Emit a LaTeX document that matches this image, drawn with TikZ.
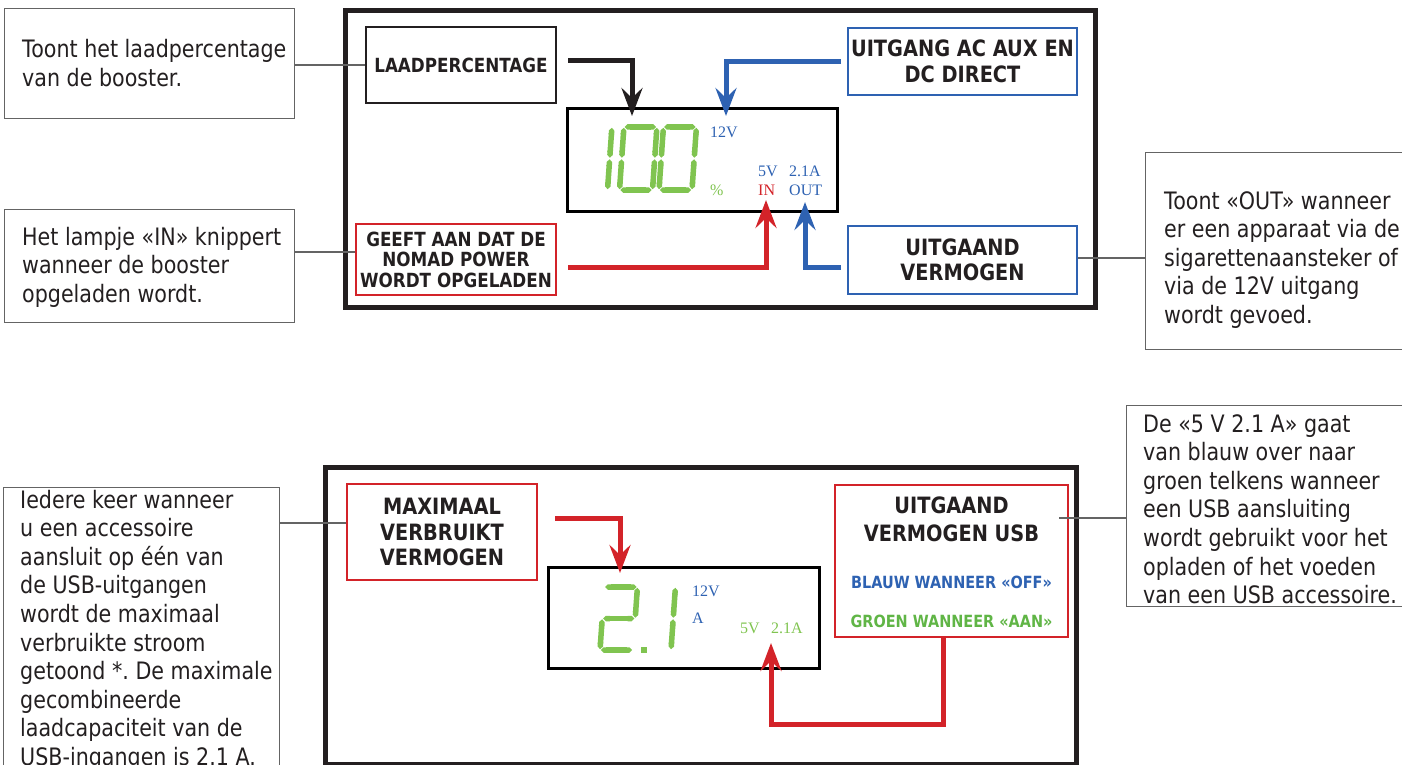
\documentclass[tikz,border=0pt]{standalone}
\usepackage{fontspec}
\setmainfont{DejaVu Sans}[FakeStretch=0.86]
\newfontfamily\lcdfont{Liberation Serif}
\usetikzlibrary{arrows.meta, positioning, calc}
\frenchspacing

\definecolor{framegray}{RGB}{35,31,32}
\definecolor{linegray}{RGB}{100,100,100}
\definecolor{ink}{RGB}{35,31,32}
\definecolor{lcdblue}{RGB}{46,98,178}
\definecolor{lcdred}{RGB}{211,35,41}
\definecolor{lcdgreen}{RGB}{128,196,80}
\definecolor{textgreen}{RGB}{96,181,70}

% seven segment pieces, origin = bottom left of the digit
\tikzset{
    lcdseg/.style={draw=lcdgreen, line width=5.5pt, shorten <=0.8pt, shorten >=0.8pt,
        {Triangle Cap[]}-{Triangle Cap[]}, xslant=0.07},
    seg a/.pic={\draw[lcdseg] (0,-63) -- (33,-63);},
    seg b/.pic={\draw[lcdseg] (33,-63) -- (33,-31.5);},
    seg c/.pic={\draw[lcdseg] (33,-31.5) -- (33,0);},
    seg d/.pic={\draw[lcdseg] (0,0) -- (33,0);},
    seg e/.pic={\draw[lcdseg] (0,-31.5) -- (0,0);},
    seg f/.pic={\draw[lcdseg] (0,-63) -- (0,-31.5);},
    seg g/.pic={\draw[lcdseg] (0,-31.5) -- (33,-31.5);}
}
\newcommand{\lcddigit}[3]{\foreach \s in {#3}{\pic at (#1,#2) {seg \s};}}

\begin{document}
\begin{tikzpicture}[x=1pt, y=-1pt,
    panel/.style={draw=framegray, line width=5pt},
    notebox/.style={draw=linegray, line width=1.4pt, anchor=north west, inner sep=0pt},
    note/.style={anchor=base west, align=left, inner sep=0pt, text=ink,
        font=\fontsize{24}{28.6}\selectfont},
    tagbox/.style={line width=2pt, align=center, inner sep=0pt, text=ink,
        font=\bfseries\fontsize{22.5}{25.5}\selectfont},
    smalltag/.style={font=\bfseries\fontsize{19.5}{20.5}\selectfont},
    lcdbox/.style={draw=black, line width=3pt, inner sep=0pt},
    lcdtext/.style={anchor=base west, inner sep=0pt, font=\lcdfont\fontsize{16}{16}\selectfont},
    lead/.style={draw=linegray, line width=1.2pt},
    arrow/.style={line width=5pt, line join=miter, -{Stealth[length=28pt, width=21pt, inset=10pt]}}
]
\useasboundingbox (0,0) rectangle (1402,765);
\clip (0,0) rectangle (1402,765);

% ---------- top panel ----------
\draw[panel] (345.5,10.5) rectangle (1095,307.5);

% display
\node[lcdbox, minimum width=270, minimum height=102] (disp1) at (702,160) {};
\lcddigit{607.5}{190}{e,f}
\lcddigit{619.5}{190}{a,b,c,d,e,f}
\lcddigit{659}{190}{a,b,c,d,e,f}
\node[lcdtext, text=lcdblue] (v12a) at (710,137) {12V};
\node[lcdtext, text=lcdgreen] (pct) at (710,195) {\%};
\node[lcdtext, text=lcdblue] (v5a) at (758,176) {5V};
\node[lcdtext, text=lcdblue] (amp1) at (789,176) {2.1A};
\node[lcdtext, text=lcdred] (inlbl) at (758,195) {IN};
\node[lcdtext, text=lcdblue] (outlbl) at (789,195) {OUT};

% boxes
\node[tagbox, smalltag, draw=ink, minimum width=190, minimum height=76] (laad) at (461,65) {LAADPERCENTAGE};
\node[tagbox, smalltag, draw=lcdred, minimum width=200, minimum height=71] (geeft) at (456,259.5) {GEEFT AAN DAT DE\\NOMAD POWER\\WORDT OPGELADEN};
\node[tagbox, draw=lcdblue, minimum width=229, minimum height=67] (aux) at (962.5,61.5) {UITGANG AC AUX EN\\DC DIRECT};
\node[tagbox, draw=lcdblue, minimum width=229, minimum height=68] (uitg) at (962.5,260) {UITGAAND\\VERMOGEN};

% callouts (text placed by the baseline of its last line)
\node[notebox, minimum width=290, minimum height=110] (tip1) at (4,8) {};
\node[note] (tip1txt) at (22,86.6) {Toont het laadpercentage\\van de booster.};
\node[notebox, minimum width=290, minimum height=113] (tip2) at (4,209) {};
\node[note] (tip2txt) at (22,302.2) {Het lampje «IN» knippert\\wanneer de booster\\opgeladen wordt.};
\node[notebox, minimum width=300, minimum height=197] (tip3) at (1145,152) {};
\node[note] (tip3txt) at (1164,323.4) {Toont «OUT» wanneer\\er een apparaat via de\\sigarettenaansteker of\\via de 12V uitgang\\wordt gevoed.};

\draw[lead] (laad.west) -- (laad.west -| tip1.east);
\draw[lead] ([yshift=7.5pt]geeft.west) -- ([yshift=7.5pt]geeft.west -| tip2.east);
\draw[lead] ([yshift=2pt]uitg.east) -- ([yshift=2pt]uitg.east -| tip3.west);

% arrows
\coordinate (in100) at (632,116);
\coordinate (in12) at (726,116);
\coordinate (inIN) at (766,200);
\coordinate (inOUT) at (805,202);
\draw[arrow, draw=framegray] ([shift={(11,-4)}]laad.east) -| (in100);
\draw[arrow, draw=lcdblue] ([xshift=-6pt]aux.west) -| (in12);
\draw[arrow, draw=lcdred] ([shift={(11,7.5)}]geeft.east) -| (inIN);
\draw[arrow, draw=lcdblue] ([shift={(-6,7)}]uitg.west) -| (inOUT);

% ---------- bottom panel ----------
\draw[panel] (325,467.5) rectangle (1076,764);

% display
\node[lcdbox, minimum width=271, minimum height=101] (disp2) at (683.5,617.5) {};
\lcddigit{600}{650}{a,b,g,e,d}
\fill[lcdgreen] (641,647) rectangle (647,653);
\lcddigit{671}{650}{e,f}
\node[lcdtext, text=lcdblue] (v12b) at (692,596) {12V};
\node[lcdtext, text=lcdblue] (amp2) at (692,623) {A};
\node[lcdtext, text=lcdgreen] (v5b) at (740,633) {5V};
\node[lcdtext, text=lcdgreen] (amp3) at (771,633) {2.1A};

% boxes
\node[tagbox, draw=lcdred, minimum width=190, minimum height=96] (maxi) at (442,532) {MAXIMAAL\\VERBRUIKT\\VERMOGEN};
\node[tagbox, draw=lcdred, minimum width=233, minimum height=152] (usb) at (951.5,561) {};
\node[tagbox, draw=none, font=\bfseries\fontsize{22.5}{28}\selectfont] (usbtitle) at (951.5,519) {UITGAAND\\VERMOGEN USB};
\node[anchor=base, inner sep=0pt, text=lcdblue, font=\bfseries\fontsize{16.8}{18}\selectfont] (usboff) at (951.5,588) {BLAUW WANNEER «OFF»};
\node[anchor=base, inner sep=0pt, text=textgreen, font=\bfseries\fontsize{16.8}{18}\selectfont] (usbon) at (951.5,627) {GROEN WANNEER «AAN»};

% callouts
\node[notebox, minimum width=276, minimum height=320] (tip4) at (3,487) {};
\node[note] (tip4txt) at (20,765.4) {Iedere keer wanneer\\u een accessoire\\aansluit op één van\\de USB-uitgangen\\wordt de maximaal\\verbruikte stroom\\getoond *. De maximale\\gecombineerde\\laadcapaciteit van de\\USB-ingangen is 2.1 A.};
\node[notebox, minimum width=320, minimum height=201] (tip5) at (1126,405) {};
\node[note] (tip5txt) at (1143,603.6) {De «5 V 2.1 A» gaat\\van blauw over naar\\groen telkens wanneer\\een USB aansluiting\\wordt gebruikt voor het\\opladen of het voeden\\van een USB accessoire.};

\draw[lead] ([yshift=9pt]maxi.west) -- ([yshift=9pt]maxi.west -| tip4.east);
\draw[lead] ([shift={(-10,-43)}]usb.east) -- ([yshift=43pt]usb.east -| tip5.west);

% arrows
\coordinate (inmax) at (620,573);
\coordinate (inusb) at (771,643);
\draw[arrow, draw=lcdred] ([shift={(17,-14)}]maxi.east) -| (inmax);
\draw[arrow, draw=lcdred] ([xshift=-8pt]usb.south) -- ++(0,86) -| (inusb);

\end{tikzpicture}
\end{document}
